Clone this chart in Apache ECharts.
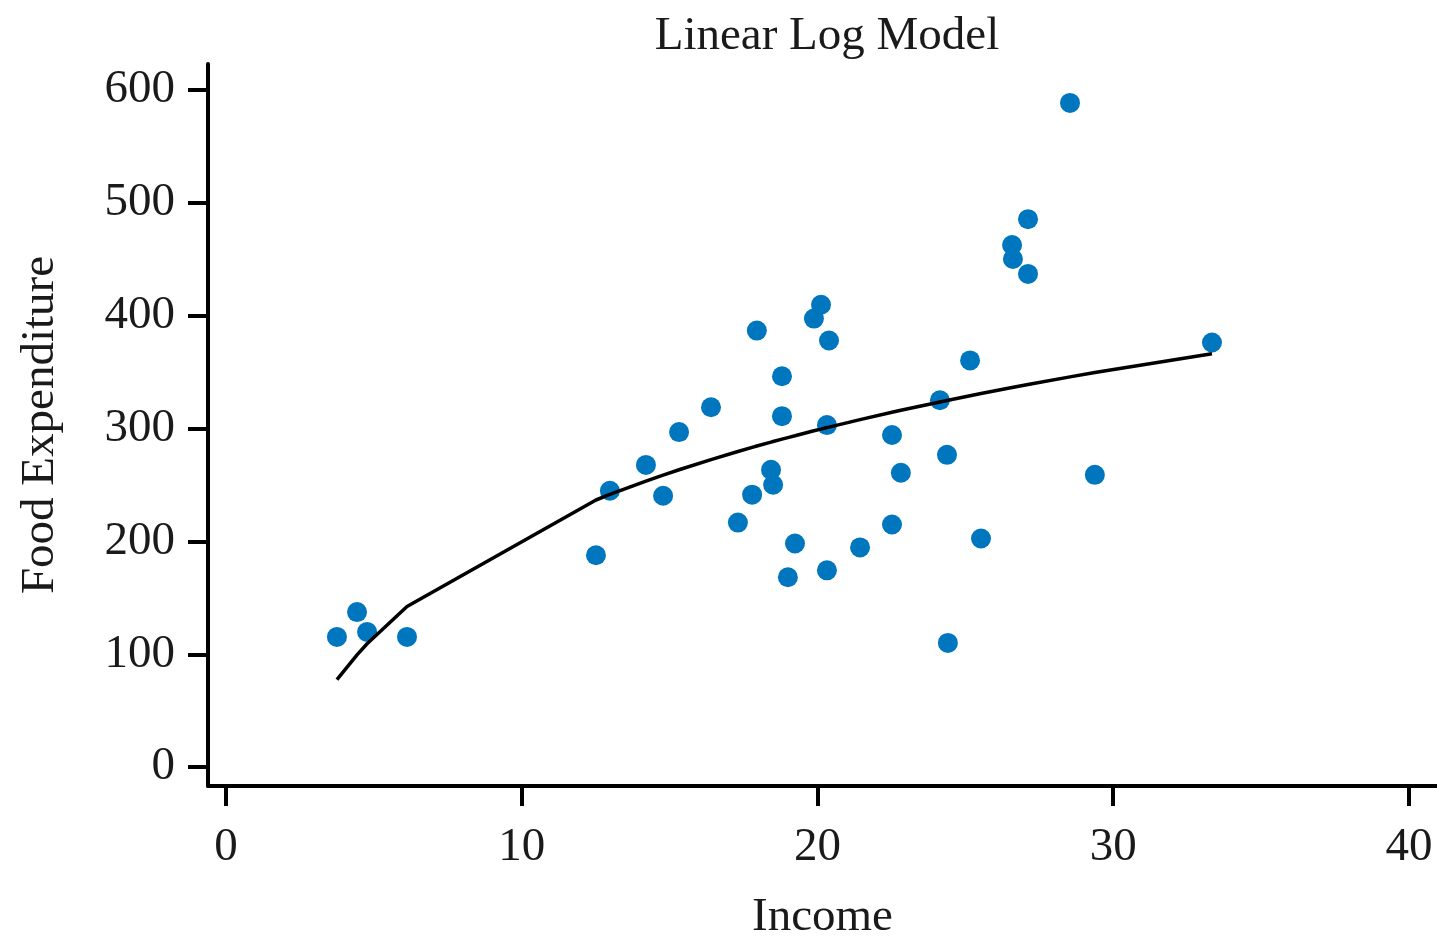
<!DOCTYPE html>
<html>
<head>
<meta charset="UTF-8">
<title>Linear Log Model</title>
<script type="text/javascript" src="https://cdn.jsdelivr.net/npm/echarts@6/dist/echarts.min.js"></script>
<style>
    html, body { margin: 0; padding: 0; background: #fff; }
</style>
</head>
<body>

    <div id="main" style="width: 1437px; height: 946px;"></div>
    <script type="text/javascript">
        var income = [3.75, 4.43, 4.77, 6.12, 12.51, 12.98, 14.20, 14.78, 15.32, 16.40,
                      17.31, 17.79, 17.95, 18.43, 18.50, 18.80, 18.80, 19.00, 19.24, 19.88,
                      20.12, 20.39, 20.32, 20.32, 21.44, 22.52, 22.52, 22.82, 24.14, 24.38,
                      24.41, 25.16, 25.53, 26.58, 26.61, 27.12, 27.12, 28.54, 29.38, 33.34];
        var foodExp = [115.4, 137.4, 119.8, 115.4, 187.7, 244.9, 267.8, 240.5, 296.9, 318.9,
                       216.7, 241.4, 386.8, 263.4, 250.2, 346.3, 311.0, 168.3, 198.2, 397.4,
                       409.7, 378.0, 303.1, 174.4, 194.7, 294.3, 215.0, 260.8, 325.1, 276.7,
                       110.1, 360.4, 202.6, 462.6, 450.2, 485.5, 437.0, 588.5, 259.0, 376.2];

        // fitted curve, read at the sorted incomes
        var fitIncome = [3.75, 4.43, 4.77, 6.12, 12.51, 12.98, 14.20, 14.78, 15.32, 16.40,
                         17.31, 17.79, 17.95, 18.43, 18.50, 18.80, 19.00, 19.24, 19.88, 20.12,
                         20.32, 20.39, 21.44, 22.52, 22.82, 24.14, 24.38, 24.41, 25.16, 25.53,
                         26.58, 26.61, 27.12, 28.54, 29.38, 33.34];
        var fitFood = [77.5, 99.5, 109.3, 142.3, 236.7, 241.6, 253.5, 258.8, 263.5, 272.5,
                       279.7, 283.3, 284.5, 288.0, 288.5, 290.6, 292.0, 293.6, 298.0, 299.5,
                       300.9, 301.3, 307.9, 314.4, 316.2, 323.6, 324.9, 325.1, 329.1, 331.0,
                       336.4, 336.5, 339.0, 345.8, 349.6, 366.3];

        var xTicks = [0, 10, 20, 30, 40];
        var yTicks = [0, 100, 200, 300, 400, 500, 600];

        var points = income.map(function (x, i) { return [x, foodExp[i]]; });
        var curve = fitIncome.map(function (x, i) { return [x, fitFood[i]]; });

        var font = '"Liberation Serif", "DejaVu Serif", serif';
        var ink = '#1a1a1a';

        var myChart = echarts.init(document.getElementById('main'));

        var option = {
            animation: false,
            backgroundColor: '#fff',
            title: {
                text: 'Linear Log Model',
                left: 822,
                top: 8,
                textAlign: 'center',
                textStyle: { fontFamily: font, fontSize: 47, fontWeight: 'normal', color: ink }
            },
            grid: { left: 208, right: 0, top: 64, bottom: 156 },
            xAxis: {
                type: 'value',
                min: -0.61,
                max: 40.95,
                name: 'Income',
                nameLocation: 'middle',
                nameGap: 108,
                nameTextStyle: { fontFamily: font, fontSize: 47, color: ink },
                axisLine: { onZero: false, lineStyle: { color: '#000', width: 4 } },
                axisTick: { show: true, length: 20, lineStyle: { color: '#000', width: 4 }, customValues: xTicks },
                axisLabel: { margin: 38, fontFamily: font, fontSize: 47, color: ink, customValues: xTicks },
                splitLine: { show: false }
            },
            yAxis: {
                type: 'value',
                min: -16.7,
                max: 623,
                name: 'Food Expenditure',
                nameLocation: 'middle',
                nameGap: 144,
                nameTextStyle: { fontFamily: font, fontSize: 47, color: ink },
                axisLine: { show: true, onZero: false, lineStyle: { color: '#000', width: 4 } },
                axisTick: { show: true, length: 20, lineStyle: { color: '#000', width: 4 }, customValues: yTicks },
                axisLabel: { margin: 33, fontFamily: font, fontSize: 47, color: ink, customValues: yTicks },
                splitLine: { show: false }
            },
            series: [{
                name: 'Observed',
                type: 'scatter',
                data: points,
                symbol: 'circle',
                symbolSize: 20,
                itemStyle: { color: '#0076BF', opacity: 1 },
                z: 2
            }, {
                name: 'Fitted',
                type: 'line',
                data: curve,
                showSymbol: false,
                symbol: 'none',
                lineStyle: { color: '#000', width: 3.5 },
                z: 3
            }]
        };

        myChart.setOption(option);
    </script>
</body>
</html>
